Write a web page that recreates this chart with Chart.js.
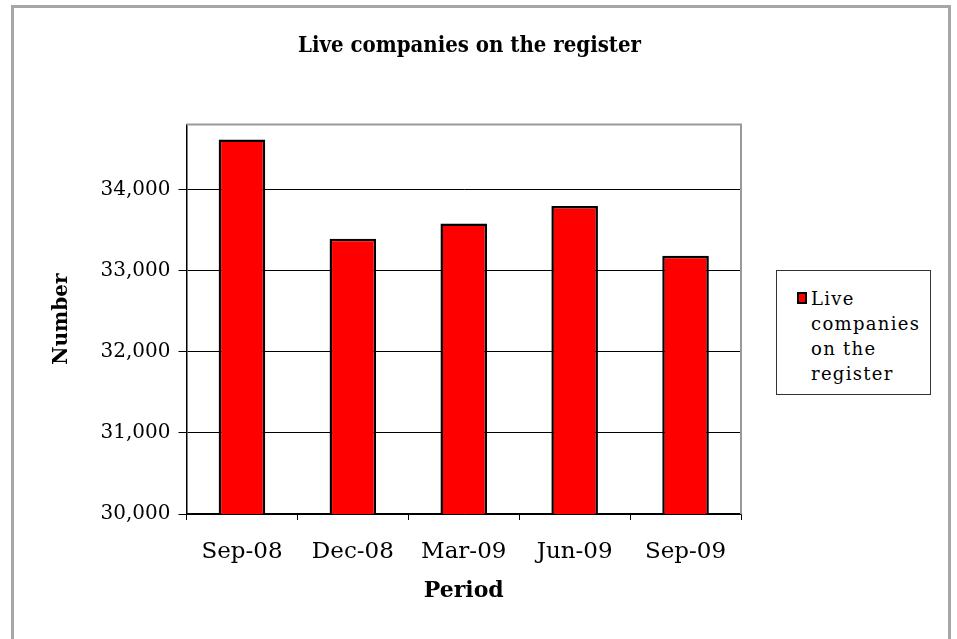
<!DOCTYPE html>
<html>
<head>
<meta charset="utf-8">
<script src="https://cdn.jsdelivr.net/npm/chart.js@4"></script>
<style>
  body { margin: 0; background: #fff; }
  #wrap { position: relative; width: 957px; height: 639px; }
  #frame { position: absolute; left: 11px; top: 5px; width: 940px; height: 660px;
           border: 3px solid #a6a6a6; box-sizing: border-box; }
  #legend { position: absolute; left: 776px; top: 270px; width: 155px; height: 125px;
            border: 1px solid #333; box-sizing: border-box; background: #fff;
            font-family: 'DejaVu Serif', serif; font-size: 18px; line-height: 25px; color: #000; }
  #legend .mark { position: absolute; left: 20px; top: 21px; width: 10px; height: 12px;
                  background: #ff0000; border: 2px solid #000; box-sizing: border-box; }
  #legend .txt { position: absolute; left: 34px; top: 15px; letter-spacing: 1.3px; }
</style>
</head>
<body>
<div id="wrap">
  <div id="frame"></div>
  <canvas id="myChart" width="957" height="639"></canvas>
  <div id="legend"><div class="mark"></div><div class="txt">Live<br>companies<br>on the<br>register</div></div>
</div>
<script>
const periods = ['Sep-08', 'Dec-08', 'Mar-09', 'Jun-09', 'Sep-09'];
const liveCompanies = [34613, 33390, 33579, 33796, 33181];
const yTicks = [30000, 31000, 32000, 33000, 34000];

const serif = "'DejaVu Serif', serif";

// grey border round the plot area (top and right sides)
const plotBorder = {
    id: 'plotBorder',
    beforeDatasetsDraw(chart) {
        const { ctx, chartArea: a } = chart;
        ctx.save();
        ctx.strokeStyle = '#999';
        ctx.lineWidth = 2;
        ctx.beginPath();
        ctx.moveTo(a.left, a.top);
        ctx.lineTo(a.right, a.top);
        ctx.lineTo(a.right, a.bottom);
        ctx.stroke();
        ctx.restore();
    }
};

const ctx = document.getElementById('myChart').getContext('2d');

const myChart = new Chart(ctx, {
    type: 'bar',
    data: {
        labels: periods,
        datasets: [{
            label: 'Live companies on the register',
            data: liveCompanies,
            backgroundColor: '#ff0000',
            borderColor: '#000',
            borderWidth: 2.5,
            barPercentage: 0.42,
            categoryPercentage: 1
        }]
    },
    options: {
        responsive: false,
        animation: false,
        layout: {
            padding: { left: 0, right: 18, top: 0, bottom: 35 }
        },
        plugins: {
            legend: { display: false },
            tooltip: { enabled: false },
            title: {
                display: true,
                text: 'Live companies on the register',
                color: '#000',
                font: { family: "'DejaVu Serif Condensed', 'DejaVu Serif', serif", size: 22, weight: 'bold' },
                padding: { top: 33, bottom: 65 }
            }
        },
        scales: {
            x: {
                grid: {
                    offset: true,
                    drawOnChartArea: false,
                    drawTicks: true,
                    tickLength: 6,
                    color: '#000'
                },
                border: { color: '#000', width: 1.5 },
                ticks: {
                    color: '#000',
                    font: { family: serif, size: 23 },
                    padding: 18,
                    maxRotation: 0
                },
                title: {
                    display: true,
                    text: 'Period',
                    color: '#000',
                    font: { family: serif, size: 22, weight: 'bold' },
                    padding: 0
                },
                afterFit: (scale) => { scale.height = 90; }
            },
            y: {
                min: 30000,
                max: 34800,
                grid: {
                    color: '#000',
                    tickLength: 8,
                    lineWidth: 1
                },
                border: { color: '#000', width: 1.5 },
                ticks: {
                    stepSize: 1000,
                    color: '#000',
                    font: { family: serif, size: 20 },
                    padding: 8,
                    callback: (value) => value.toLocaleString('en-US')
                },
                afterBuildTicks: (scale) => {
                    scale.ticks = yTicks.map(v => ({ value: v }));
                },
                title: {
                    display: true,
                    text: 'Number',
                    color: '#000',
                    font: { family: serif, size: 20, weight: 'bold' },
                    padding: { top: 50, bottom: 0 }
                },
                afterFit: (scale) => { scale.width = 186.5; }
            },
            // empty right-hand axis keeps room for the legend box
            yRight: {
                position: 'right',
                display: true,
                grid: { drawOnChartArea: false, drawTicks: false },
                border: { display: false },
                ticks: { display: false },
                afterFit: (scale) => { scale.width = 198; }
            }
        }
    },
    plugins: [plotBorder]
});
</script>
</body>
</html>
